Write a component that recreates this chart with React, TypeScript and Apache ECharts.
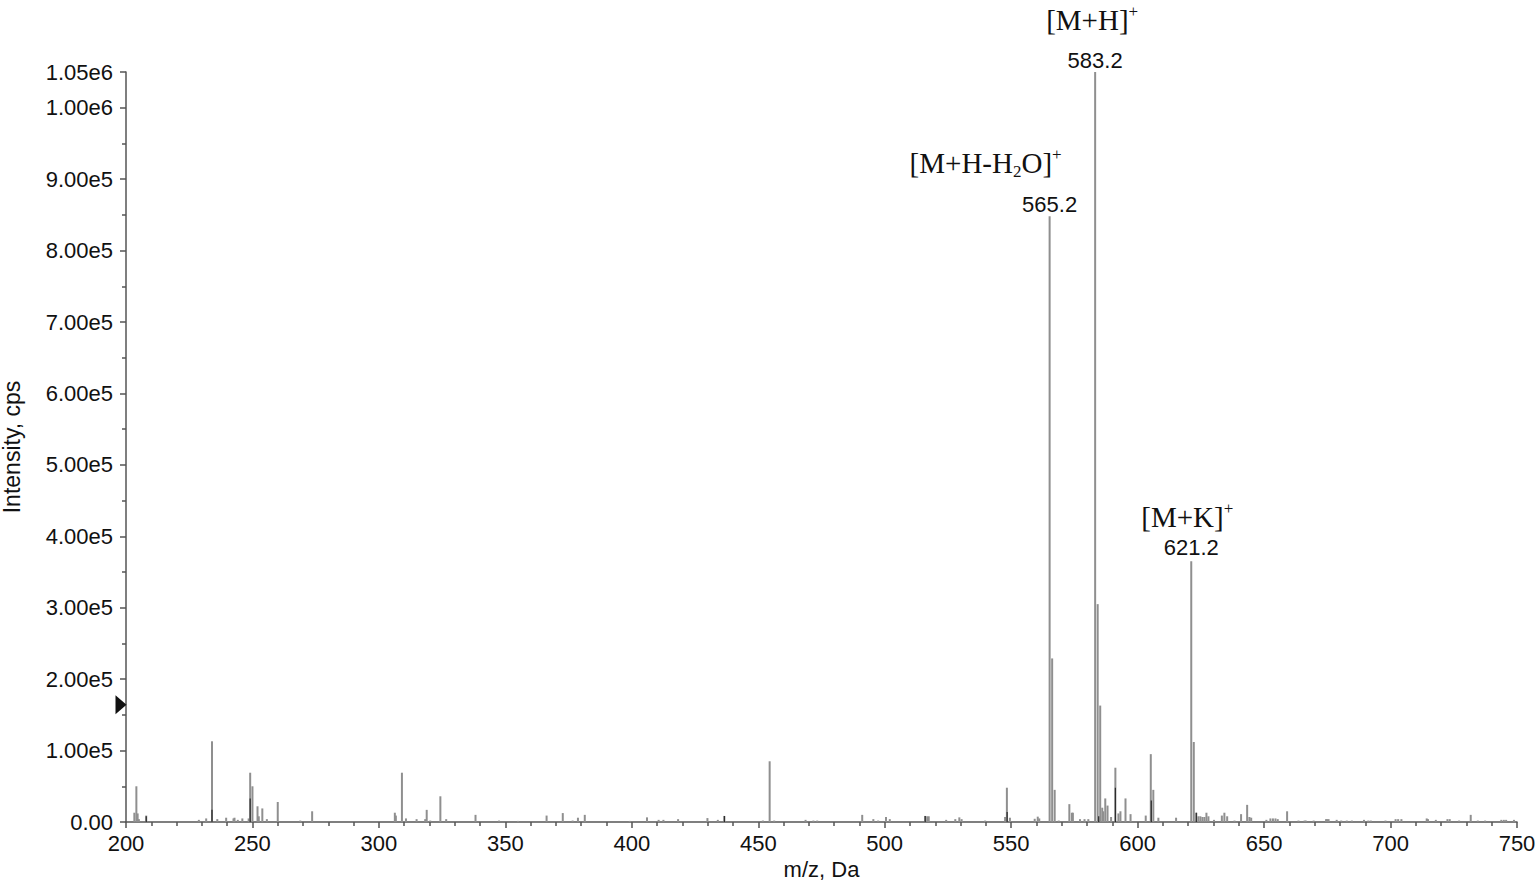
import React, { useEffect, useRef } from 'react';
import * as echarts from 'echarts';

// m/z (Da) and intensity (cps) of the spectrum sticks
const mzValues = [
  203.3, 204.1, 204.6, 205.1, 208.0, 228.8, 231.7, 234.0, 236.1, 239.6, 242.5, 242.9, 244.2, 246.0, 248.5,
  249.1, 250.0, 252.0, 252.5, 253.9, 255.7, 260.0, 268.9, 273.6, 306.3, 306.7, 309.1, 310.7, 314.9, 318.3,
  318.9, 320.3, 324.3, 326.6, 338.2, 347.5, 355.0, 366.3, 372.7, 376.6, 378.7, 381.4, 399.2, 406.0, 410.6,
  412.5, 418.3, 429.9, 434.0, 436.6, 451.8, 454.5, 456.3, 468.7, 471.8, 473.3, 491.1, 495.5, 497.4, 500.5,
  502.0, 516.0, 516.8, 517.4, 524.3, 527.9, 529.5, 530.4, 539.7, 547.6, 548.3, 549.5, 559.3, 560.5, 561.1,
  565.2, 566.2, 567.2, 568.8, 573.0, 574.0, 574.4, 577.2, 579.0, 580.5, 583.2, 584.2, 585.2, 586.0, 586.4,
  587.2, 588.1, 589.5, 591.2, 592.4, 593.2, 595.2, 597.2, 603.2, 605.2, 606.2, 608.2, 615.2, 621.2, 622.2,
  623.2, 624.0, 624.8, 625.6, 626.4, 627.2, 628.0, 630.2, 633.3, 634.3, 635.4, 638.3, 640.9, 643.3, 644.2,
  644.9, 650.9, 652.5, 653.5, 654.5, 655.4, 659.1, 663.6, 666.0, 666.5, 669.6, 674.5, 675.0, 675.5, 678.7,
  680.5, 682.7, 684.7, 689.5, 691.2, 692.2, 698.0, 702.0, 703.0, 704.3, 714.3, 714.8, 717.9, 722.5, 723.4,
  727.1, 731.7, 734.5, 737.4, 743.8, 744.8, 745.7, 748.8,
];
const intensities = [
  13000, 50000, 12000, 4000, 9000, 3000, 5000, 113000, 4000, 6000, 5000, 6000, 3000, 5000, 5000,
  69000, 50000, 22000, 8000, 19000, 4000, 28000, 2000, 15000, 13000, 9000, 69000, 5000, 4000, 4000,
  17000, 2000, 36000, 4000, 10000, 2000, 1500, 9000, 12500, 2000, 6000, 10000, 1500, 6500, 3000,
  3000, 4000, 5500, 3000, 8500, 2000, 85000, 2000, 3000, 2000, 2000, 10000, 4000, 2000, 7000,
  4000, 8500, 8000, 8000, 3000, 4000, 6500, 4000, 2000, 7000, 48000, 6000, 4500, 7500, 5000,
  848000, 229000, 45000, 2000, 25000, 13000, 13000, 4000, 4000, 4000, 1050000, 305000, 163000, 20000, 15000,
  33000, 23000, 7000, 76000, 12000, 15000, 33000, 11000, 9000, 95000, 45000, 6000, 6000, 365000, 112000,
  13000, 8000, 8000, 7000, 7000, 13000, 8000, 3000, 9000, 13000, 8000, 2000, 11000, 24000, 7000,
  6000, 3000, 5000, 5000, 5000, 4000, 15000, 2000, 2000, 2000, 2000, 4000, 4000, 4000, 3000,
  2000, 2000, 2000, 3000, 2000, 2000, 2000, 4000, 4000, 4000, 5000, 4000, 3000, 4000, 4000,
  2000, 10000, 2000, 2000, 3000, 3000, 3000, 3000,
];
// darker overlapping sticks
const darkMz = [208.0, 234.0, 249.1, 436.6, 516.0, 548.4, 584.6, 591.2, 605.4, 623.2];
const darkIntensities = [8000, 17000, 33000, 8500, 8500, 14000, 8000, 48000, 30000, 13000];

// annotated peaks
const annotatedMz = [565.2, 583.2, 621.2];
const annotatedIntensity = [848000, 1050000, 365000];
const ionNames = [
  '{t|[M+H-H}{sub|2}{t|O]}{sup|+}',
  '{t|[M+H]}{sup|+}',
  '{t|[M+K]}{sup|+}',
];
const thresholdLevel = 164000;

// styling of annotation placement (pixels)
const ionOffsets = [[-64, -53], [-3, -52], [-4, -44]];
const mzOffsets = [[0, -12], [0, -12], [0, -14]];

const X_MIN = 200;
const X_MAX = 750;
const X_STEP = 50;
const Y_MAX = 1050000;
const Y_STEP = 100000;

const SANS = '"Liberation Sans", Arial, Helvetica, sans-serif';
const SERIF = '"Liberation Serif", "Times New Roman", serif';

const stickRenderer = (color: string, width: number) => (params: any, api: any) => {
  const x = api.value(0);
  const y = api.value(1);
  const p0 = api.coord([x, 0]);
  const p1 = api.coord([x, y]);
  return {
    type: 'line',
    shape: { x1: p0[0], y1: p0[1], x2: p1[0], y2: p1[1] },
    style: { stroke: color, lineWidth: width },
  };
};

export default function App() {
  const ref = useRef<HTMLDivElement>(null);
  useEffect(() => {
    if (!ref.current) return;
    const chart = echarts.init(ref.current, undefined, { renderer: 'svg' });
    const mainData = mzValues.map((m, i) => [m, intensities[i]]);
    const darkData = darkMz.map((m, i) => [m, darkIntensities[i]]);

    const markData: any[] = [];
    annotatedMz.forEach((m, i) => {
      markData.push({
        coord: [m, annotatedIntensity[i]],
        symbol: 'circle',
        symbolSize: 0,
        itemStyle: { color: 'rgba(0,0,0,0)' },
        label: {
          show: true,
          position: 'inside',
          offset: mzOffsets[i],
          formatter: String(m.toFixed(1)),
          fontFamily: SANS,
          fontSize: 22,
          color: '#111',
        },
      });
      markData.push({
        coord: [m, annotatedIntensity[i]],
        symbol: 'circle',
        symbolSize: 0,
        itemStyle: { color: 'rgba(0,0,0,0)' },
        label: {
          show: true,
          position: 'inside',
          offset: ionOffsets[i],
          formatter: ionNames[i],
          rich: {
            t: { fontFamily: SERIF, fontSize: 29, color: '#111', lineHeight: 34 },
            sup: { fontFamily: SERIF, fontSize: 17, color: '#111', verticalAlign: 'top', lineHeight: 17 },
            sub: { fontFamily: SERIF, fontSize: 17, color: '#111', verticalAlign: 'bottom', lineHeight: 22 },
          },
        },
      });
    });
    markData.push({
      coord: [X_MIN, thresholdLevel],
      symbol: 'triangle',
      symbolSize: [19, 11],
      symbolRotate: -90,
      symbolOffset: [-5, 0],
      itemStyle: { color: '#111' },
      label: { show: false },
    });

    chart.setOption({
      animation: false,
      backgroundColor: '#ffffff',
      grid: {
        left: 126,
        right: 23,
        top: 72,
        bottom: 59,
        containLabel: false,
        outerBoundsMode: 'none',
      },
      xAxis: {
        type: 'value',
        min: X_MIN,
        max: X_MAX,
        interval: X_STEP,
        name: 'm/z, Da',
        nameLocation: 'middle',
        nameGap: 34,
        nameTextStyle: { fontFamily: SANS, fontSize: 22, color: '#111' },
        axisLine: { show: true, onZero: false, lineStyle: { color: '#555', width: 1.5 } },
        axisTick: { show: true, length: 6, lineStyle: { color: '#555', width: 1.5 } },
        minorTick: { show: true, splitNumber: 5, length: 4, lineStyle: { color: '#555', width: 1.5 } },
        axisLabel: { fontFamily: SANS, fontSize: 22, color: '#111', margin: 10 },
        splitLine: { show: false },
      },
      yAxis: {
        type: 'value',
        min: 0,
        max: Y_MAX,
        interval: Y_STEP,
        name: 'Intensity, cps',
        nameLocation: 'middle',
        nameGap: 103,
        nameTextStyle: { fontFamily: SANS, fontSize: 23, color: '#111' },
        axisLine: { show: true, lineStyle: { color: '#555', width: 1.5 } },
        axisTick: { show: true, length: 6, lineStyle: { color: '#555', width: 1.5 } },
        minorTick: { show: true, splitNumber: 2, length: 4, lineStyle: { color: '#555', width: 1.5 } },
        axisLabel: {
          fontFamily: SANS,
          fontSize: 22,
          color: '#111',
          margin: 13,
          showMaxLabel: true,
          formatter: (v: number) => (v === 0 ? '0.00' : v.toExponential(2).replace('e+', 'e')),
        },
        splitLine: { show: false },
      },
      series: [
        {
          type: 'custom',
          name: 'spectrum',
          renderItem: stickRenderer('#8f8f8f', 2),
          data: mainData,
          encode: { x: 0, y: 1 },
          clip: true,
          markPoint: { data: markData, silent: true },
        },
        {
          type: 'custom',
          name: 'overlap',
          renderItem: stickRenderer('#2a2a2a', 1.2),
          data: darkData,
          encode: { x: 0, y: 1 },
          clip: true,
        },
      ],
    });
    return () => chart.dispose();
  }, []);
  return (
    <div
      ref={ref}
      style={{ position: 'fixed', left: 0, top: 0, width: 1540, height: 881, background: '#fff' }}
    />
  );
}
